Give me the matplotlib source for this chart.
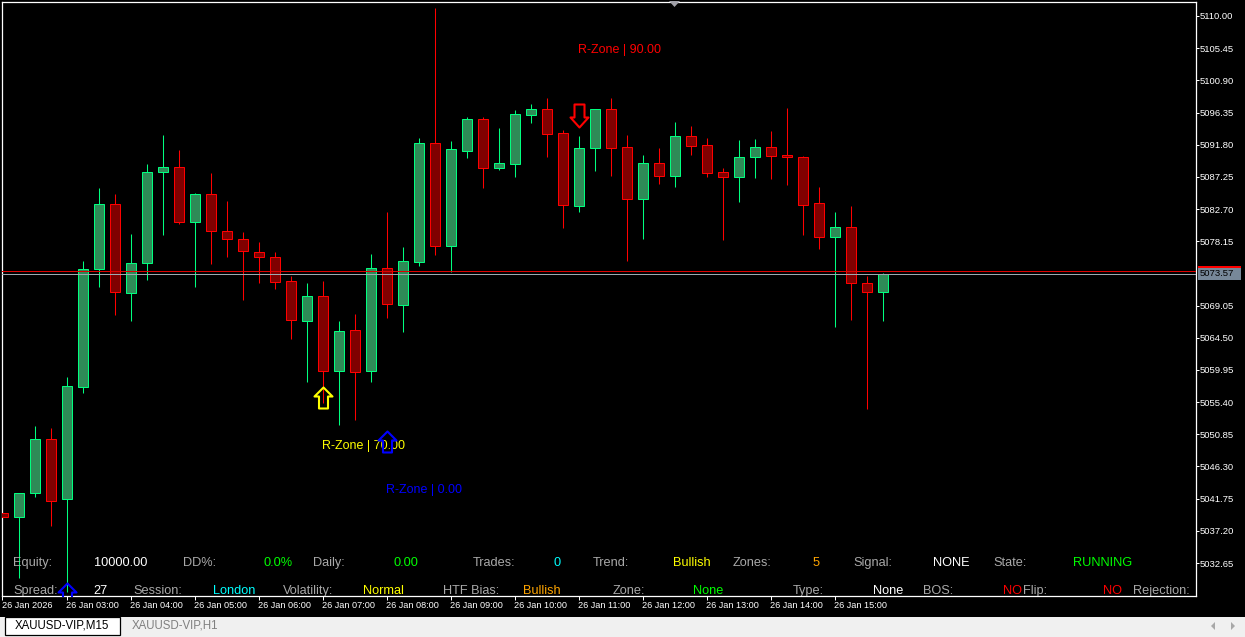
import numpy as np
from matplotlib import pyplot as plt
from matplotlib.patches import Rectangle, Polygon
from matplotlib.path import Path
from matplotlib.transforms import Affine2D

opens = [5039.72, 5039.15, 5042.55, 5050.18, 5041.70, 5057.54, 5074.22, 5083.41, 5070.83, 5075.07,
         5087.94, 5088.65, 5080.87, 5084.83, 5079.60, 5078.47, 5076.63, 5075.92, 5072.53, 5066.87,
         5070.41, 5059.80, 5065.60, 5059.80, 5074.36, 5069.13, 5075.21, 5092.04, 5077.48, 5090.91,
         5095.43, 5088.50, 5089.07, 5096.00, 5096.85, 5093.45, 5083.13, 5091.33, 5096.85, 5091.47,
         5084.12, 5089.21, 5087.37, 5093.03, 5091.76, 5087.94, 5087.23, 5090.06, 5091.47, 5090.34,
         5090.06, 5083.56, 5078.75, 5080.16, 5072.24, 5070.97]
highs = [5039.72, 5042.55, 5052.02, 5051.74, 5058.95, 5075.35, 5085.68, 5084.83, 5079.17, 5089.07,
         5093.17, 5091.05, 5084.97, 5087.80, 5083.84, 5079.46, 5078.04, 5076.63, 5073.23, 5072.24,
         5072.53, 5066.87, 5067.86, 5076.34, 5082.28, 5077.33, 5092.75, 5111.13, 5092.32, 5095.72,
         5095.72, 5094.16, 5096.71, 5097.55, 5098.40, 5093.88, 5093.03, 5096.85, 5098.40, 5093.17,
         5090.34, 5091.33, 5095.01, 5094.44, 5092.75, 5088.50, 5092.46, 5092.61, 5093.74, 5096.99,
         5090.20, 5085.82, 5082.28, 5083.13, 5073.23, 5073.66]
lows = [5039.15, 5030.53, 5041.98, 5037.88, 5028.55, 5056.69, 5071.68, 5067.72, 5066.87, 5072.67,
        5079.03, 5080.59, 5071.68, 5074.93, 5075.92, 5069.84, 5072.24, 5071.40, 5064.33, 5058.25,
        5055.27, 5052.17, 5052.87, 5058.25, 5067.29, 5065.31, 5074.65, 5076.20, 5073.80, 5089.92,
        5085.68, 5088.22, 5087.23, 5094.87, 5090.06, 5080.02, 5082.28, 5088.08, 5087.37, 5075.35,
        5078.47, 5086.24, 5085.82, 5090.34, 5087.23, 5078.32, 5083.70, 5087.09, 5086.95, 5086.10,
        5079.03, 5077.05, 5066.02, 5067.01, 5054.43, 5066.87]
closes = [5039.15, 5042.55, 5050.18, 5041.42, 5057.68, 5074.22, 5083.41, 5070.97, 5075.07, 5087.94,
          5088.65, 5080.87, 5084.83, 5079.60, 5078.47, 5076.77, 5075.92, 5072.39, 5067.01, 5070.41,
          5059.80, 5065.46, 5059.66, 5074.36, 5069.27, 5075.35, 5092.04, 5077.48, 5091.19, 5095.43,
          5088.50, 5089.21, 5096.14, 5096.85, 5093.31, 5083.27, 5091.33, 5096.85, 5091.33, 5084.12,
          5089.21, 5087.37, 5093.03, 5091.62, 5087.80, 5087.23, 5090.06, 5091.47, 5090.20, 5090.06,
          5083.27, 5078.75, 5080.16, 5072.24, 5070.97, 5073.57]

price_ticks = [5110.00, 5105.45, 5100.90, 5096.35, 5091.80, 5087.25, 5082.70, 5078.15, 5069.05,
               5064.50, 5059.95, 5055.40, 5050.85, 5046.30, 5041.75, 5037.20, 5032.65]
time_ticks = [0, 4, 8, 12, 16, 20, 24, 28, 32, 36, 40, 44, 48, 52]
time_labels = ["26 Jan 2026", "26 Jan 03:00", "26 Jan 04:00", "26 Jan 05:00", "26 Jan 06:00",
               "26 Jan 07:00", "26 Jan 08:00", "26 Jan 09:00", "26 Jan 10:00", "26 Jan 11:00",
               "26 Jan 12:00", "26 Jan 13:00", "26 Jan 14:00", "26 Jan 15:00"]
bid = 5073.57
ask = 5073.87

# signal arrows: bar, tip price, colour
up_arrows = [(20, 5057.54, "#ffff00"), (24, 5051.30, "#0000ff"), (4, 5029.82, "#0000ff")]
down_arrows = [(36, 5094.30, "#ff0000")]

GRAY = "#a9a9a9"
row1 = [(13, "Equity:", GRAY), (94, "10000.00", "white"), (183, "DD%:", GRAY), (263, "0.0%", "#00ff00"),
        (313, "Daily:", GRAY), (393, "0.00", "#00ff00"), (473, "Trades:", GRAY), (553, "0", "#00ffff"),
        (593, "Trend:", GRAY), (673, "Bullish", "#ffff00"), (733, "Zones:", GRAY), (813, "5", "#ffa500"),
        (853, "Signal:", GRAY), (933, "NONE", "white"), (993, "State:", GRAY), (1073, "RUNNING", "#00ff00")]
row2 = [(13, "Spread:", GRAY), (93, "27", "white"), (133, "Session:", GRAY), (213, "London", "#00ffff"),
        (283, "Volatility:", GRAY), (363, "Normal", "#ffff00"), (443, "HTF Bias:", GRAY), (523, "Bullish", "#ffa500"),
        (613, "Zone:", GRAY), (693, "None", "#00ff00"), (793, "Type:", GRAY), (873, "None", "white"),
        (923, "BOS:", GRAY), (1003, "NO", "#ff0000"), (1023, "Flip:", GRAY), (1103, "NO", "#ff0000"),
        (1133, "Rejection:", GRAY)]
zones = [(578, 50, "R-Zone | 90.00", "#ff0000"), (322, 446, "R-Zone | 70.00", "#ffff00"),
         (386, 490, "R-Zone | 0.00", "#0000ff")]

W, H = 1245, 637
fig = plt.figure(figsize=(W / 100, H / 100), dpi=100, facecolor="black")
px = Affine2D().scale(1 / W, -1 / H).translate(0, 1) + fig.transFigure

left, right, top, bottom = 2.5, 1196, 1.5, 595.5
ax = fig.add_axes([left / W, 1 - bottom / H, (right - left) / W, (bottom - top) / H], facecolor="black")
ax.set_xlim(0, (right - left) / 16)
ax.set_ylim(5112.26 - 0.1414 * bottom, 5112.26 - 0.1414 * top)

x = np.arange(len(opens))
o, h, l, c = map(np.array, (opens, highs, lows, closes))
bull = c >= o
wick_col = np.where(bull, "#00ff7f", "#ff0000")
fill_col = np.where(bull, "#2e8b57", "#800000")

ax.vlines(x, l, h, colors=wick_col, linewidth=0.75, zorder=2, snap=True)
ax.bar(x, c - o, bottom=o, width=0.625, color=fill_col, edgecolor=wick_col, linewidth=0.72, zorder=3)

ax.axhline(ask, color="#e00000", linewidth=0.72, zorder=4)
ax.axhline(bid, color="#a0a8b0", linewidth=0.72, zorder=4)

# hollow arrow glyphs, size given in screen pixels
up_path = Path([(0, 0), (9, -9), (4.5, -9), (4.5, -21), (-4.5, -21), (-4.5, -9), (-9, -9), (0, 0)], closed=True)
down_path = Path([(0, 0), (9, 10), (5, 10), (5, 23), (-5, 23), (-5, 10), (-9, 10), (0, 0)], closed=True)
for i, p, col in up_arrows:
    ax.plot(i, p, marker=up_path, markersize=42 * 0.72, markerfacecolor="none",
            markeredgecolor=col, markeredgewidth=1.5, zorder=7)
for i, p, col in down_arrows:
    ax.plot(i, p, marker=down_path, markersize=46 * 0.72, markerfacecolor="none",
            markeredgecolor=col, markeredgewidth=1.5, zorder=7)

for spine in ax.spines.values():
    spine.set_color("white")
    spine.set_linewidth(0.9)

ax.yaxis.tick_right()
ax.set_yticks(price_ticks)
ax.set_yticklabels(["%.2f" % p for p in price_ticks])
ax.set_xticks(time_ticks)
ax.set_xticklabels(time_labels, ha="left")
ax.tick_params(axis="y", colors="white", length=2.2, width=0.72, pad=0.6, labelsize=6.8, labelfontfamily="Liberation Sans")
ax.tick_params(axis="x", colors="white", length=3, width=0.72, pad=1.2, labelsize=6.6, labelfontfamily="Liberation Sans")

for xp, yp, txt, col in zones:
    ax.text(xp, yp, txt, color=col, fontsize=9.0, family="Liberation Sans", va="center", ha="left",
            transform=px, zorder=5)
for yp, row in ((563, row1), (591, row2)):
    for xp, txt, col in row:
        ax.text(xp, yp, txt, color=col, fontsize=9.2, family="Liberation Sans", va="center", ha="left",
                transform=px, zorder=6, clip_on=True)

# last price tag on the price scale
fig.add_artist(Rectangle((1198, 268), 43, 11.5, transform=px, facecolor="#778899", edgecolor="none"))
fig.add_artist(Rectangle((1198, 266), 43, 2, transform=px, facecolor="#ff0000", edgecolor="none"))
fig.text(1200, 274, "%.2f" % bid, color="black", fontsize=6.8, family="Liberation Sans", va="center", transform=px)

# small marker on the top edge
fig.add_artist(Polygon([(669, 1), (680, 1), (674.5, 7)], transform=px, facecolor="#a0a0a8", edgecolor="none"))

# tab strip under the chart
fig.add_artist(Rectangle((0, 617), W, 20, transform=px, facecolor="#f0f0f0", edgecolor="none"))
fig.add_artist(Rectangle((4.5, 616.5), 115, 18, transform=px, facecolor="white", edgecolor="black", linewidth=0.9))
fig.text(15, 626, "XAUUSD-VIP,M15", color="black", fontsize=8.3, family="Liberation Sans", va="center", transform=px)
fig.text(132, 626, "XAUUSD-VIP,H1", color="#808080", fontsize=8.3, family="Liberation Sans", va="center", transform=px)
fig.add_artist(Polygon([(1215, 622), (1215, 630), (1211, 626)], transform=px, facecolor="#a8a8a8", edgecolor="none"))
fig.add_artist(Polygon([(1231, 622), (1231, 630), (1235, 626)], transform=px, facecolor="#a8a8a8", edgecolor="none"))

fig.savefig("out.png", dpi=100, facecolor="black")
